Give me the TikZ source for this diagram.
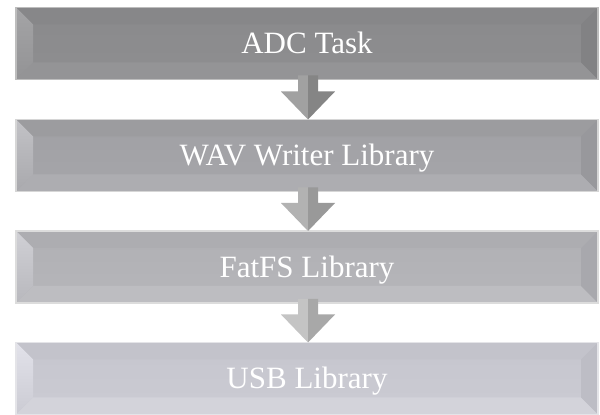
\documentclass[tikz,border=0pt]{standalone}
\usepackage{fontspec}
\setmainfont{Liberation Serif}
\usetikzlibrary{calc}
% face top / mid / bottom, bevel top / bottom / left-top / left-bottom / right, border
\definecolor{aT}{HTML}{8A8A8C}\definecolor{aM}{HTML}{939395}\definecolor{aB}{HTML}{8E8E90}
\definecolor{aBt}{HTML}{878789}\definecolor{aBb}{HTML}{949496}\definecolor{aL1}{HTML}{A4A4A6}\definecolor{aL2}{HTML}{939395}\definecolor{aR}{HTML}{828284}\definecolor{aF}{HTML}{BDBDBD}
\definecolor{bT}{HTML}{A0A0A4}\definecolor{bM}{HTML}{ABABAF}\definecolor{bB}{HTML}{A6A6AA}
\definecolor{bBt}{HTML}{9C9C9F}\definecolor{bBb}{HTML}{ADADB1}\definecolor{bL1}{HTML}{C2C2C6}\definecolor{bL2}{HTML}{A9A9AD}\definecolor{bR}{HTML}{98989C}\definecolor{bF}{HTML}{D6D6D6}
\definecolor{cT}{HTML}{B0B0B4}\definecolor{cM}{HTML}{BBBBC0}\definecolor{cB}{HTML}{B6B6BA}
\definecolor{cBt}{HTML}{ADADB1}\definecolor{cBb}{HTML}{BDBDC1}\definecolor{cL1}{HTML}{D0D0D5}\definecolor{cL2}{HTML}{B8B8BD}\definecolor{cR}{HTML}{A8A8AD}\definecolor{cF}{HTML}{DCDCDC}
\definecolor{dT}{HTML}{C6C6CE}\definecolor{dM}{HTML}{D0D0D7}\definecolor{dB}{HTML}{CBCBD3}
\definecolor{dBt}{HTML}{C3C3CB}\definecolor{dBb}{HTML}{D3D3DA}\definecolor{dL1}{HTML}{E2E2EA}\definecolor{dL2}{HTML}{CBCBD3}\definecolor{dR}{HTML}{BDBDC5}\definecolor{dF}{HTML}{E4E4E8}
\tikzset{
  layerbox/.style={minimum width=582pt, minimum height=72pt, inner sep=0pt, outer sep=0pt,
    text=white, font=\fontsize{31}{36}\selectfont, text height=20.5pt, text depth=0pt,
    top color=#1T, middle color=#1M, bottom color=#1B},
  frame/.style={line width=1.5pt},
}
% #1 node name, #2 colour prefix
\newcommand\drawbevel[2]{%
  \fill[#2Bt] (#1.north west) -- ($(#1.north west)+(17,-17)$) -- ($(#1.north east)+(-17,-17)$) -- (#1.north east) -- cycle;
  \fill[#2Bb] (#1.south west) -- ($(#1.south west)+(17,17)$) -- ($(#1.south east)+(-17,17)$) -- (#1.south east) -- cycle;
  \shade[top color=#2L1, bottom color=#2L2] (#1.north west) -- ($(#1.north west)+(17,-17)$) -- ($(#1.south west)+(17,17)$) -- (#1.south west) -- cycle;
  \fill[#2R] (#1.north east) -- ($(#1.north east)+(-17,-17)$) -- ($(#1.south east)+(-17,17)$) -- (#1.south east) -- cycle;
  \draw[frame,#2F] (#1.north west) rectangle (#1.south east);
}
% #1 from, #2 to, #3 left colour, #4 right colour
\newcommand\layerarrow[4]{%
  \fill[#3] ($(#1.south)+(1,4)$) -- ($(#1.south)+(-9,4)$) -- ($(#2.north)+(-9,28)$) -- ($(#2.north)+(-26,28)$) -- ($(#2.north)+(1,0)$) -- cycle;
  \fill[#4] ($(#1.south)+(1,4)$) -- ($(#1.south)+(11,4)$) -- ($(#2.north)+(11,28)$) -- ($(#2.north)+(28,28)$) -- ($(#2.north)+(1,0)$) -- cycle;
}
\begin{document}
\begin{tikzpicture}[x=1pt,y=1pt]
\useasboundingbox[fill=white] (0,0) rectangle (600,415);
\node[layerbox=a] (adc) at (307,371.5) {ADC Task};
\drawbevel{adc}{a}
\node[layerbox=b] (wav) at (307,259.5) {WAV Writer Library};
\drawbevel{wav}{b}
\node[layerbox=c] (fat) at (307,148) {FatFS Library};
\drawbevel{fat}{c}
\node[layerbox=d] (usb) at (307,36.5) {USB Library};
\drawbevel{usb}{d}
\layerarrow{adc}{wav}{black!37}{black!48}
\layerarrow{wav}{fat}{black!30}{black!40}
\layerarrow{fat}{usb}{black!23}{black!34}
\end{tikzpicture}
\end{document}
